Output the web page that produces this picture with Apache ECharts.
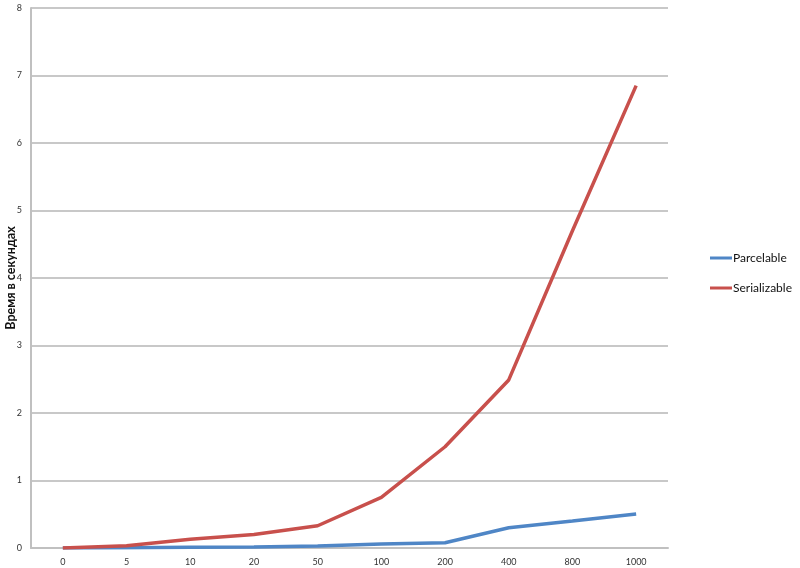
<!DOCTYPE html>
<html><head><meta charset="utf-8">
<script src="https://cdn.jsdelivr.net/npm/echarts@6/dist/echarts.min.js"></script>
<style>html,body{margin:0;padding:0;background:#fff}#c{width:800px;height:568px}</style>
</head><body><div id="c"></div>
<script>
const categories = ['0','5','10','20','50','100','200','400','800','1000'];
const parcelable = [0, 0.005, 0.01, 0.015, 0.03, 0.06, 0.077, 0.30, 0.40, 0.505];
const serializable = [0, 0.035, 0.13, 0.2, 0.33, 0.75, 1.5, 2.49, 4.7, 6.85];
const yName = 'Время в секундах';

const chart = echarts.init(document.getElementById('c'));
chart.setOption({
  animation: false,
  backgroundColor: '#fff',
  textStyle: {fontFamily: 'Lato, "Open Sans", sans-serif'},
  grid: {left: 31, right: 132, top: 8, bottom: 20, containLabel: false, outerBoundsMode: 'none'},
  legend: {
    orient: 'vertical', left: 705, top: 247, itemGap: 18,
    itemWidth: 22, itemHeight: 3,
    icon: 'rect',
    textStyle: {fontSize: 12, color: '#111', padding: [0,0,0,-4]},
    data: ['Parcelable','Serializable']
  },
  xAxis: {
    type: 'category', data: categories, boundaryGap: true,
    axisLine: {lineStyle: {color: '#c0c0c0', width: 2}},
    axisTick: {show: false},
    axisLabel: {fontSize: 9, color: '#333', margin: 10}
  },
  yAxis: {
    type: 'value', min: 0, max: 8, interval: 1,
    name: yName, nameLocation: 'middle', nameGap: 14, nameRotate: 90,
    nameMoveOverlap: false,
    nameTextStyle: {fontSize: 12.5, fontWeight: 'bold', color: '#111'},
    axisLine: {show: true, lineStyle: {color: '#c0c0c0', width: 2}},
    axisTick: {show: false},
    axisLabel: {fontSize: 9, color: '#333', margin: 9},
    splitLine: {lineStyle: {color: '#c8c8c8', width: 2}}
  },
  series: [
    {name: 'Parcelable', type: 'line', data: parcelable, symbol: 'none',
     lineStyle: {width: 3.5, color: '#4f86c6'}, itemStyle: {color: '#4f86c6'}},
    {name: 'Serializable', type: 'line', data: serializable, symbol: 'none',
     lineStyle: {width: 3.5, color: '#c8504c'}, itemStyle: {color: '#c8504c'}}
  ]
});
</script></body></html>
